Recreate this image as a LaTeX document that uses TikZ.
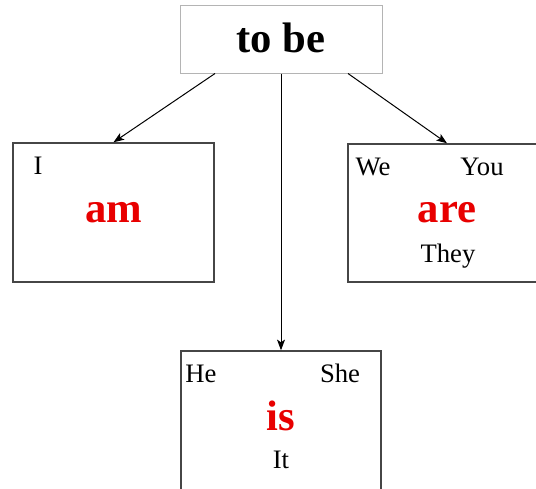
\documentclass[tikz,border=0pt]{standalone}
\usepackage{fontspec}
\setmainfont{Liberation Serif}
\usetikzlibrary{arrows.meta}

\definecolor{verbred}{RGB}{232,0,0}
\definecolor{boxgray}{RGB}{70,70,70}
\definecolor{topgray}{RGB}{180,180,180}

\begin{document}
\begin{tikzpicture}[x=0.75pt, y=-0.75pt, >={Stealth[length=8pt,width=6pt,inset=2pt]}, line width=0.75pt,
    verbbox/.style={draw=boxgray, line width=1.1pt, fill=white, inner sep=0pt},
    verb/.style={anchor=base, text=verbred, font=\fontsize{32}{36}\selectfont\bfseries, inner sep=0pt},
    pronoun/.style={anchor=base, font=\fontsize{20}{24}\selectfont, inner sep=0pt}]
    \useasboundingbox (0,0) rectangle (536,489);
    \clip (0,0) rectangle (536,489);

    % Boxes {tobe, am, are, is}
    \node [draw=topgray, inner sep=0pt, minimum width=151.5pt, minimum height=51pt]
        (tobe) at (281,39) {};
    \node [verbbox, minimum width=150.75pt, minimum height=104.25pt] (ambox)  at (113.5,212.5) {};
    \node [verbbox, minimum width=148.5pt,  minimum height=103.5pt]  (arebox) at (447,213)     {};
    \node [verbbox, minimum width=150pt,    minimum height=133.5pt]  (isbox)  at (281,440)     {};

    % Texts
    \node [anchor=base, inner sep=0pt, font=\fontsize{32}{36}\selectfont\bfseries] (tobetext) at (281,52) {to be};
    \node [pronoun] (i)    at (38,174)  {I};
    \node [verb]    (am)   at (114,222) {am};
    \node [pronoun] (we)   at (373,175) {We};
    \node [pronoun] (you)  at (482,175) {You};
    \node [verb]    (are)  at (447,222) {are};
    \node [pronoun] (they) at (448,262) {They};
    \node [pronoun] (he)   at (201,382) {He};
    \node [pronoun] (she)  at (340,382) {She};
    \node [verb]    (is)   at (281,430) {is};
    \node [pronoun] (it)   at (281,468) {It};

    % Paths
    \path [->] ([xshift=-49.5pt]tobe.south) edge (ambox.north);
    \path [->] (tobe.south)                 edge (isbox.north);
    \path [->] ([xshift=50.25pt]tobe.south) edge (arebox.north);

\end{tikzpicture}
\end{document}
